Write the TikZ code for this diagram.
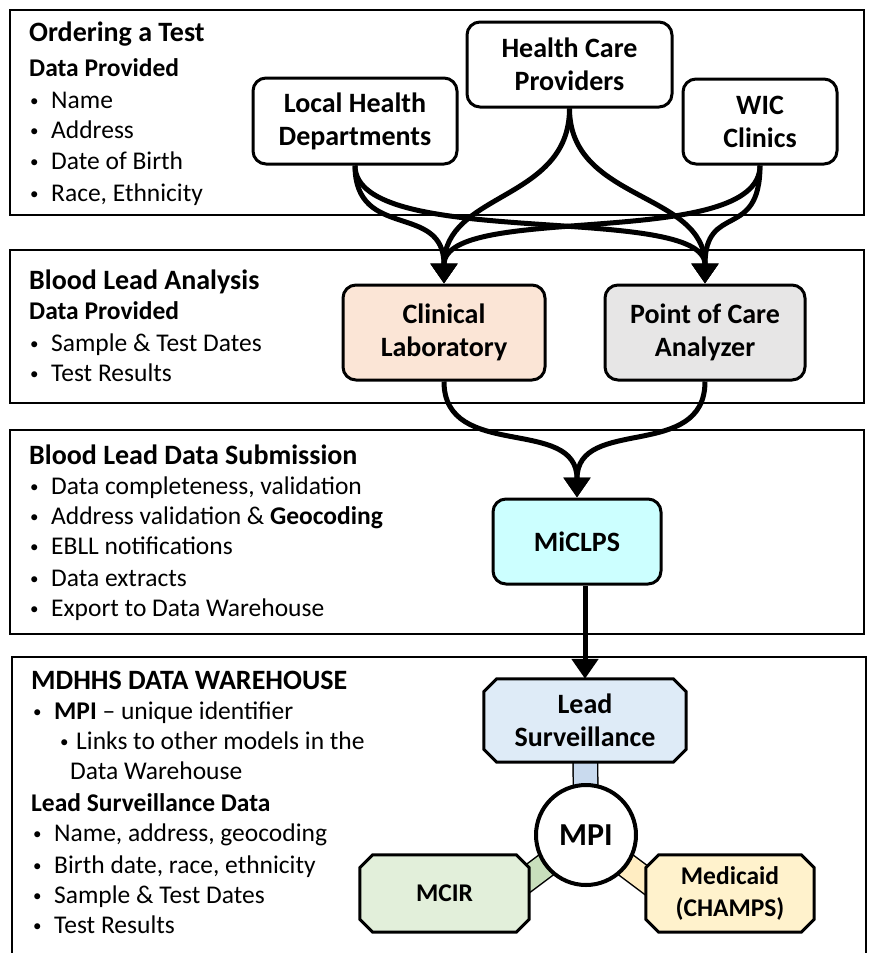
\documentclass[tikz,border=0pt]{standalone}
\usepackage{fontspec}
\setmainfont{Carlito}
\usetikzlibrary{arrows.meta,calc,backgrounds}
\definecolor{clinfill}{HTML}{FBE5D6}
\definecolor{pocfill}{HTML}{E7E6E6}
\definecolor{micfill}{HTML}{CCFFFF}
\definecolor{lsfill}{HTML}{DEEBF7}
\definecolor{lsband}{HTML}{C9DAEE}
\definecolor{mcirfill}{HTML}{E2EFDA}
\definecolor{mcirband}{HTML}{C8DFBC}
\definecolor{medfill}{HTML}{FFF2CC}
\definecolor{medband}{HTML}{FFEDC2}
\newcommand\bul[1][21pt]{\makebox[#1][l]{\raisebox{1.5pt}{\fontsize{17}{17}\selectfont•}}}
\newcommand\chamf[2]{%
  \filldraw[line width=3pt,#2] ($(#1.north west)+(13,0)$) -- ($(#1.north east)+(-13,0)$) --
    ($(#1.north east)+(0,13)$) -- ($(#1.south east)+(0,-13)$) --
    ($(#1.south east)+(-13,0)$) -- ($(#1.south west)+(13,0)$) --
    ($(#1.south west)+(0,-13)$) -- ($(#1.north west)+(0,13)$) -- cycle;}
\tikzset{
  sect/.style={draw, line width=2.5pt},
  hd/.style={anchor=west, inner sep=0pt, font=\fontsize{28}{33}\selectfont\bfseries, text height=20pt, text depth=6pt},
  sub/.style={anchor=west, inner sep=0pt, font=\fontsize{25.5}{31}\selectfont\bfseries, text height=18pt, text depth=5.5pt},
  body/.style={anchor=west, inner sep=0pt, font=\fontsize{25.5}{31}\selectfont, text height=18pt, text depth=5.5pt},
  rbox/.style={draw, line width=3pt, rounded corners=13pt, align=center, inner sep=0pt,
    font=\fontsize{28}{33}\selectfont\bfseries},
  cbox/.style={inner sep=0pt, align=center, font=\fontsize{28}{33}\selectfont\bfseries},
  sbox/.style={inner sep=0pt, align=center, font=\fontsize{25.5}{32}\selectfont\bfseries},
  flow/.style={line width=5pt, -{Triangle[width=26pt,length=20pt]}},
  band/.style={line width=1.5pt, double distance=23pt}
}
\begin{document}
\begin{tikzpicture}[x=1pt,y=-1pt]
\useasboundingbox (0,0) rectangle (869,953);
% sections
\draw[sect] (10,10) rectangle (864,215);
\draw[sect] (10,250) rectangle (864,403);
\draw[sect] (10,430) rectangle (864,634);
\draw[sect] (12,657) rectangle (866,957);
% section 1 text
\node[hd] (t1) at (29,34) {Ordering a Test};
\node[sub] (t1a) at (29,70) {Data Provided};
\node[body] (t1b) at (30,102) {\bul Name};
\node[body] (t1c) at (30,132) {\bul Address};
\node[body] (t1d) at (30,163) {\bul Date of Birth};
\node[body] (t1e) at (30,195) {\bul Race, Ethnicity};
% section 2 text
\node[hd] (t2) at (29,282) {Blood Lead Analysis};
\node[sub] (t2a) at (29,313) {Data Provided};
\node[body] (t2b) at (30,345) {\bul Sample \& Test Dates};
\node[body] (t2c) at (30,375) {\bul Test Results};
% section 3 text
\node[hd] (t3) at (29,457) {Blood Lead Data Submission};
\node[body] (t3a) at (30,488) {\bul Data completeness, validation};
\node[body] (t3b) at (30,518) {\bul Address validation \& \textbf{Geocoding}};
\node[body] (t3c) at (30,548) {\bul EBLL notifications};
\node[body] (t3d) at (30,580) {\bul Data extracts};
\node[body] (t3e) at (30,610) {\bul Export to Data Warehouse};
% section 4 text
\node[hd] (t4) at (31,682) {MDHHS DATA WAREHOUSE};
\node[body] (t4a) at (33,713) {\bul\textbf{MPI} -- unique identifier};
\node[body] (t4b) at (60,743) {\bul[16pt]Links to other models in the};
\node[body] (t4c) at (70,773) {Data Warehouse};
\node[sub] (t4d) at (31,805) {Lead Surveillance Data};
\node[body] (t4e) at (33,835) {\bul Name, address, geocoding};
\node[body] (t4f) at (33,867) {\bul Birth date, race, ethnicity};
\node[body] (t4g) at (33,897) {\bul Sample \& Test Dates};
\node[body] (t4h) at (33,927) {\bul Test Results};
% flow boxes
\node[rbox, minimum width=205pt, minimum height=85pt, fill=white] (hcp) at (569.5,64.5) {Health Care\\Providers};
\node[rbox, minimum width=204pt, minimum height=86pt, fill=white] (lhd) at (355,121) {Local Health\\Departments};
\node[rbox, minimum width=154pt, minimum height=85pt, fill=white] (wic) at (760,121.5) {WIC\\Clinics};
\node[rbox, minimum width=202pt, minimum height=95pt, fill=clinfill] (clin) at (444,332.5) {Clinical\\Laboratory};
\node[rbox, minimum width=200pt, minimum height=95pt, fill=pocfill] (poc) at (705,332.5) {Point of Care\\Analyzer};
\node[rbox, minimum width=168pt, minimum height=85pt, fill=micfill] (mic) at (577,541.5) {MiCLPS};
% warehouse nodes
\node[cbox, minimum width=202pt, minimum height=83pt] (ls) at (585,720.5) {Lead\\Surveillance};
\node[sbox, minimum width=169pt, minimum height=77pt] (mcir) at (444.5,893.5) {MCIR};
\node[sbox, minimum width=168pt, minimum height=77pt] (med) at (730,893.5) {Medicaid\\(CHAMPS)};
\node[circle, draw, line width=4pt, fill=white, minimum size=100pt, inner sep=0pt,
  font=\fontsize{32}{36}\selectfont\bfseries] (mpi) at (586,835) {MPI};
\coordinate (mcirend) at ($(mpi.center)+(-80,60)$);
\coordinate (medend) at ($(mpi.center)+(80,60)$);
\begin{pgfonlayer}{background}
\draw[band, double=lsband] (ls.center) -- (mpi.center);
\draw[band, double=mcirband] (mpi.center) -- (mcirend);
\draw[band, double=medband] (mpi.center) -- (medend);
\chamf{ls}{fill=lsfill}
\chamf{mcir}{fill=mcirfill}
\chamf{med}{fill=medfill}
\end{pgfonlayer}
% connectors
\draw[flow] (lhd.south) .. controls +(0,76) and +(0,-82) .. (clin.north);
\draw[flow] (lhd.south) .. controls +(0,86) and +(0,-82) .. (poc.north);
\draw[flow] (hcp.south) .. controls +(0,93) and +(0,-92) .. (clin.north);
\draw[flow] (hcp.south) .. controls +(0,93) and +(0,-92) .. (poc.north);
\draw[flow] (wic.south) .. controls +(0,86) and +(0,-82) .. (clin.north);
\draw[flow] (wic.south) .. controls +(0,76) and +(0,-82) .. (poc.north);
\draw[flow] (clin.south) .. controls +(0,80) and +(0,-82) .. (mic.north);
\draw[flow] (poc.south) .. controls +(0,80) and +(0,-82) .. (mic.north);
\draw[flow] (mic.south -| ls.north) -- (ls.north);
\end{tikzpicture}
\end{document}
